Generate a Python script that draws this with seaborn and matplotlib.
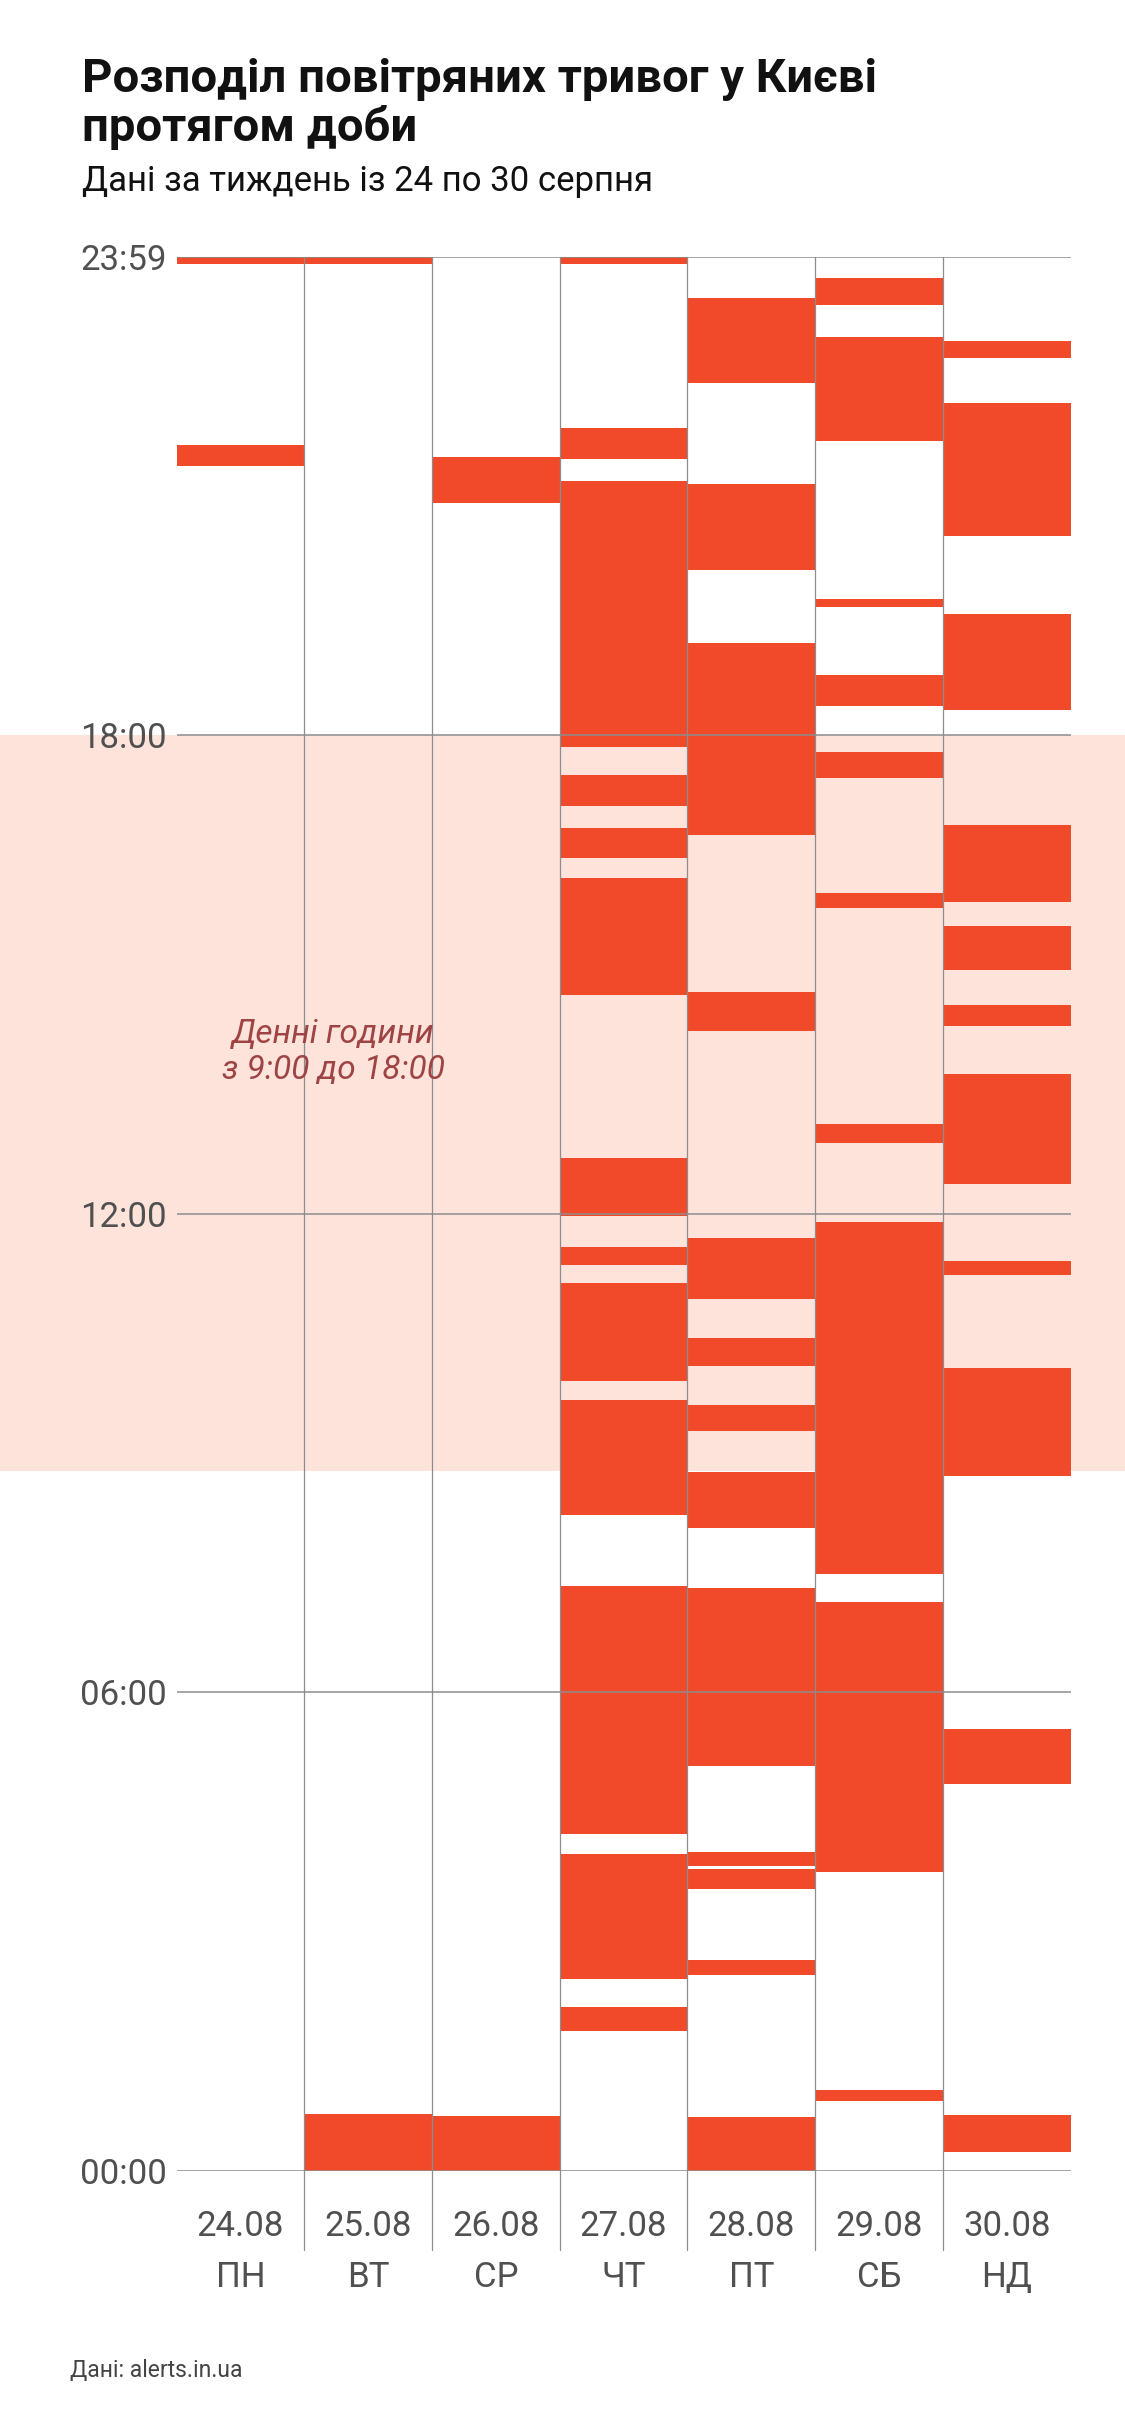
import pandas as pd
import matplotlib.pyplot as plt
import seaborn as sns

# Alert intervals per day, in hours (start, end)
days = ["24.08", "25.08", "26.08", "27.08", "28.08", "29.08", "30.08"]
weekdays = ["ПН", "ВТ", "СР", "ЧТ", "ПТ", "СБ", "НД"]

alerts_24 = [(21.38, 21.64), (23.91, 24.0)]
alerts_25 = [(0.0, 0.715), (23.91, 24.0)]
alerts_26 = [(0.0, 0.69), (20.92, 21.49)]
alerts_27 = [(1.75, 2.06), (2.41, 3.98), (4.23, 7.34), (8.22, 9.67), (9.91, 11.14),
             (11.36, 11.58), (11.97, 12.70), (14.75, 16.21), (16.47, 16.84),
             (17.11, 17.51), (17.85, 21.19), (21.47, 21.86), (23.91, 24.0)]
alerts_28 = [(0.0, 0.68), (2.46, 2.65), (3.53, 3.79), (3.83, 4.00), (5.08, 7.31),
             (8.06, 8.77), (9.28, 9.60), (10.09, 10.45), (10.94, 11.70),
             (14.29, 14.78), (16.75, 19.16), (20.08, 21.15), (22.42, 23.48)]
alerts_29 = [(0.88, 1.02), (3.75, 7.14), (7.49, 11.90), (12.89, 13.13),
             (15.84, 16.03), (17.47, 17.79), (18.37, 18.76), (19.61, 19.71),
             (21.69, 23.00), (23.40, 23.74)]
alerts_30 = [(0.24, 0.70), (4.85, 5.54), (8.72, 10.07), (11.23, 11.41),
             (12.38, 13.75), (14.36, 14.62), (15.06, 15.61), (15.91, 16.88),
             (18.32, 19.52), (20.50, 22.17), (22.73, 22.95)]

all_alerts = [alerts_24, alerts_25, alerts_26, alerts_27, alerts_28, alerts_29, alerts_30]

hour_ticks = [0, 6, 12, 18, 24]
hour_labels = ["00:00", "06:00", "12:00", "18:00", "23:59"]

rows = []
for i, intervals in enumerate(all_alerts):
    for start, end in intervals:
        rows.append({"day": i, "start": start, "end": end})
df = pd.DataFrame(rows)
df["duration"] = df["end"] - df["start"]

sns.set_style("white")
plt.rcParams["font.family"] = ["Roboto", "DejaVu Sans"]

RED = "#F04A2A"
SHADE = "#FDE3DA"
GRID = "#8c8c8c"
TXT = "#505050"

fig = plt.figure(figsize=(11.25, 24.36), dpi=100)
ax = fig.add_axes([0.157, 0.1088, 0.7946, 0.7857])

# daytime shading, spans the whole figure width
ax.axhspan(8.78, 18.0, xmin=-0.2, xmax=1.08, color=SHADE, zorder=0, clip_on=False, lw=0)

ax.bar(df["day"], df["duration"], bottom=df["start"], width=1.0, align="edge",
       color=RED, linewidth=0, zorder=2)

for h in hour_ticks:
    ax.axhline(h, color=GRID, lw=1.1, zorder=3)
for i in range(1, len(days)):
    ax.plot([i, i], [-0.99, 24], color=GRID, lw=0.9, zorder=3, clip_on=False)

ax.set_xlim(0, len(days))
ax.set_ylim(0, 24)
ax.set_yticks(hour_ticks)
ax.set_yticklabels(hour_labels, fontsize=25, color=TXT)
ax.tick_params(axis="y", length=0, pad=7)
ax.set_xticks([])
sns.despine(ax=ax, left=True, bottom=True)

for i, (d, w) in enumerate(zip(days, weekdays)):
    ax.text(i + 0.5, -0.70, d, ha="center", va="center", fontsize=25, color=TXT, clip_on=False)
    ax.text(i + 0.5, -1.34, w, ha="center", va="center", fontsize=25, color=TXT, clip_on=False)

ax.text(1.23, 14.03, "Денні години\nз 9:00 до 18:00", ha="center", va="center",
        fontsize=24, style="italic", color="#9E4444", linespacing=1.15, zorder=4)

fig.text(0.073, 0.9765, "Розподіл повітряних тривог у Києві\nпротягом доби",
         ha="left", va="top", fontsize=34, fontweight="bold", color="#111111", linespacing=1.1)
fig.text(0.073, 0.9255, "Дані за тиждень із 24 по 30 серпня",
         ha="left", va="center", fontsize=25, color="#111111")
fig.text(0.062, 0.027, "Дані: alerts.in.ua", ha="left", va="center", fontsize=16.5, color="#444444")

fig.savefig("out.png", dpi=100)
